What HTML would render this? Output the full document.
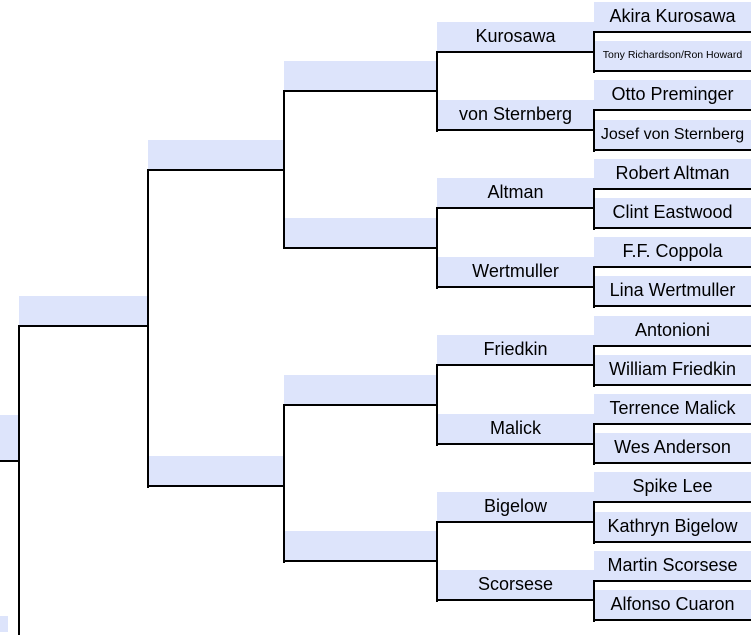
<!DOCTYPE html>
<html><head><meta charset="utf-8"><style>
body{margin:0;width:753px;height:632px;position:relative;overflow:hidden;background:#fff;font-family:"Liberation Sans",Arial,sans-serif}
.b{position:absolute;height:29px;background:#dde4fb;border-bottom:2px solid #000;text-align:center;line-height:29px;font-size:18px;color:#000;white-space:nowrap;box-sizing:content-box}
.v{position:absolute;width:2px;background:#000}
.c5{left:594px;width:157px}
.c4{left:437px;width:157px}
.c3{left:284px;width:152px}
.c2{left:148px;width:135px}
.c1{left:19px;width:128px}
</style></head><body>
<div class="b" style="left:0;width:18px;top:415px;height:45px"></div>
<div style="position:absolute;left:0;top:616px;width:8px;height:16px;background:#dde4fb"></div>
<div class="b c1" style="top:296px"></div>
<div class="v" style="left:18px;top:325px;height:310px"></div>

<div class="b c2" style="top:140px"></div>
<div class="b c2" style="top:456px"></div>
<div class="v" style="left:147px;top:169px;height:319px"></div>

<div class="b c3" style="top:61px"></div>
<div class="b c3" style="top:218px"></div>
<div class="b c3" style="top:375px"></div>
<div class="b c3" style="top:531px"></div>
<div class="v" style="left:283px;top:90px;height:159px"></div>
<div class="v" style="left:283px;top:404px;height:159px"></div>

<div class="b c4" style="top:22px">Kurosawa</div>
<div class="b c4" style="top:100px">von Sternberg</div>
<div class="b c4" style="top:178px">Altman</div>
<div class="b c4" style="top:257px">Wertmuller</div>
<div class="b c4" style="top:335px">Friedkin</div>
<div class="b c4" style="top:414px">Malick</div>
<div class="b c4" style="top:492px">Bigelow</div>
<div class="b c4" style="top:570px">Scorsese</div>
<div class="v" style="left:436px;top:51px;height:81px"></div>
<div class="v" style="left:436px;top:207px;height:82px"></div>
<div class="v" style="left:436px;top:364px;height:82px"></div>
<div class="v" style="left:436px;top:521px;height:81px"></div>

<div class="b c5" style="top:2px">Akira Kurosawa</div>
<div class="b c5" style="top:41px;font-size:10.5px">Tony Richardson/Ron Howard</div>
<div class="b c5" style="top:80px">Otto Preminger</div>
<div class="b c5" style="top:120px;font-size:16px">Josef von Sternberg</div>
<div class="b c5" style="top:159px">Robert Altman</div>
<div class="b c5" style="top:198px">Clint Eastwood</div>
<div class="b c5" style="top:237px">F.F. Coppola</div>
<div class="b c5" style="top:276px">Lina Wertmuller</div>
<div class="b c5" style="top:316px">Antonioni</div>
<div class="b c5" style="top:355px">William Friedkin</div>
<div class="b c5" style="top:394px">Terrence Malick</div>
<div class="b c5" style="top:433px">Wes Anderson</div>
<div class="b c5" style="top:472px">Spike Lee</div>
<div class="b c5" style="top:512px">Kathryn Bigelow</div>
<div class="b c5" style="top:551px">Martin Scorsese</div>
<div class="b c5" style="top:590px">Alfonso Cuaron</div>
<div class="v" style="left:593px;top:31px;height:42px"></div>
<div class="v" style="left:593px;top:109px;height:43px"></div>
<div class="v" style="left:593px;top:188px;height:42px"></div>
<div class="v" style="left:593px;top:266px;height:42px"></div>
<div class="v" style="left:593px;top:345px;height:42px"></div>
<div class="v" style="left:593px;top:423px;height:42px"></div>
<div class="v" style="left:593px;top:501px;height:43px"></div>
<div class="v" style="left:593px;top:580px;height:42px"></div>
</body></html>
